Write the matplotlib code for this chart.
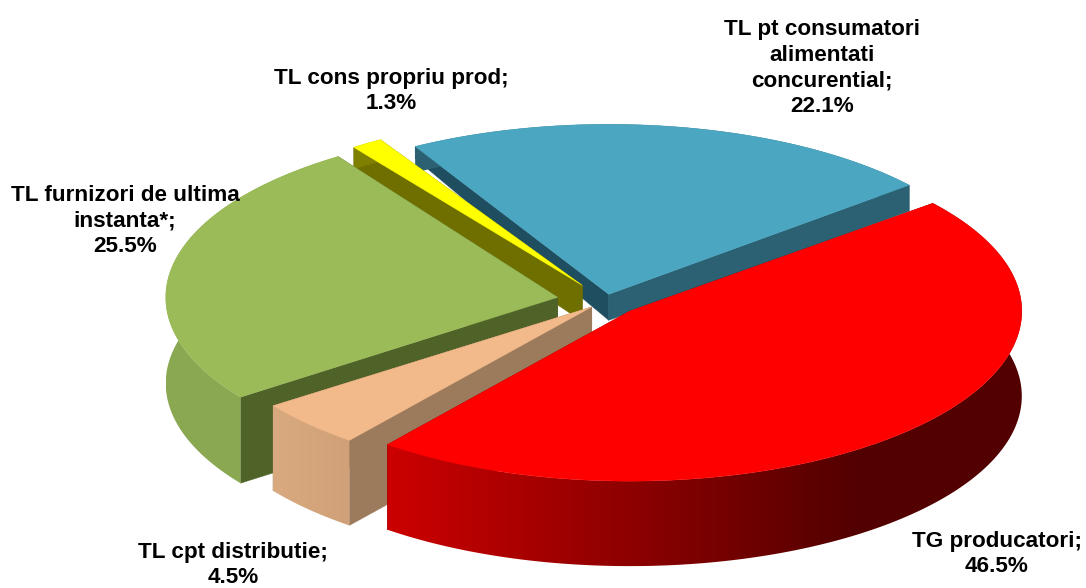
import numpy as np
import matplotlib
matplotlib.use('Agg')
import matplotlib.pyplot as plt
from matplotlib.colors import LinearSegmentedColormap
from matplotlib.patches import Polygon

# Fatias, no sentido horario, a partir de -29 graus
labels = ['TL pt consumatori\nalimentati\nconcurential', 'TG producatori', 'TL cpt distributie',
          'TL furnizori de ultima\ninstanta*', 'TL cons propriu prod']
values = [22.1, 46.5, 4.5, 25.5, 1.3]

top_colors = ['#4aa6c1', '#fe0000', '#f2b98a', '#9bbb59', '#ffff00']
# face do corte: lado inicial, lado final
cut_start = ['#1f4e60', '#7a0000', '#9c7a5c', '#4f6228', '#6f6f00']
cut_end = ['#2b6173', '#7a0000', '#9c7a5c', '#4f6228', '#6f6f00']
# cor da parede curva: esquerda -> direita
wall_left = ['#2b6173', '#cc0000', '#d9a97f', '#8aa851', '#7f7f00']
wall_right = ['#2b6173', '#520000', '#d0a078', '#8aa851', '#7f7f00']
explode = [0.04, 0.085, 0.05, 0.125, 0.11]
rotate = [-0.6, 0, 0, -0.4, -2.0]
depth = [26, 85, 85, 86, 36]
rim_depth = [12, 85, 85, 86, 22]  # altura da face inicial junto a borda
label_xy = [(822, 68), (997, 554), (233, 565), (125, 221), (391, 91)]

start = -29
cx, cy = 606, 301
a, b = 392, 170
red_stop = 860  # a partir daqui o vermelho fica no tom mais escuro

plt.rcParams['font.family'] = ['Liberation Sans', 'DejaVu Sans']
fig = plt.figure(figsize=(10.86, 5.88), dpi=100)
ax = fig.add_axes([0, 0, 1, 1])
ax.axis('off')

fracs = np.array(values) / sum(values) * 360
edges = start + np.concatenate([[0], np.cumsum(fracs)])


def rim(ang, ox, oy):
    t = np.radians(ang)
    return ox + a * np.sin(t), oy - b * np.cos(t)


def draw_slice(i, z):
    t0, t1 = edges[i] + rotate[i], edges[i + 1] + rotate[i]
    mid = np.radians((t0 + t1) / 2)
    ox = cx + explode[i] * a * np.sin(mid)
    oy = cy - explode[i] * b * np.cos(mid)
    d = depth[i]
    ang = np.linspace(t0, t1, 160)
    x, y = rim(ang, ox, oy)

    # faces do corte, atras da parede curva
    ax.fill([ox, x[0], x[0], ox], [oy, y[0], y[0] + rim_depth[i], oy + d],
            color=cut_start[i], lw=0.3, zorder=z)
    ax.fill([ox, x[-1], x[-1], ox], [oy, y[-1], y[-1] + d, oy + d],
            color=cut_end[i], lw=0.3, zorder=z)

    # parede curva com degrade horizontal
    cmap = LinearSegmentedColormap.from_list('w', [wall_left[i], wall_right[i]])
    xs = np.linspace(x.min(), x.max(), 256)
    if i == 1:
        grad = np.clip((xs - xs[0]) / (red_stop - xs[0]), 0, 1)
    else:
        grad = (xs - xs[0]) / (xs[-1] - xs[0])
    wall_d = rim_depth[i] if i == 4 else d
    im = ax.imshow(grad.reshape(1, -1), cmap=cmap, vmin=0, vmax=1, aspect='auto',
                   extent=(x.min(), x.max(), 588, 0), zorder=z + 0.1)
    wall = Polygon(np.c_[np.r_[x, x[::-1]], np.r_[y, y[::-1] + wall_d]], closed=True,
                   facecolor='none', edgecolor='none', transform=ax.transData)
    ax.add_patch(wall)
    im.set_clip_path(wall)

    # tampa
    ax.fill(np.r_[ox, x], np.r_[oy, y], color=top_colors[i], lw=0.3, zorder=z + 0.2)


# de tras para a frente: azul, amarelo, verde, pessego, vermelho
for z, i in enumerate([0, 4, 3, 2, 1]):
    draw_slice(i, z + 1)

for name, val, (lx, ly) in zip(labels, values, label_xy):
    ax.text(lx, ly, f'{name};\n{val}%', ha='center', va='center', fontsize=16.2, fontweight='bold',
            color='black', linespacing=1.29, zorder=50)

ax.set_xlim(0, 1086)
ax.set_ylim(588, 0)
fig.savefig('out.png', dpi=100)
